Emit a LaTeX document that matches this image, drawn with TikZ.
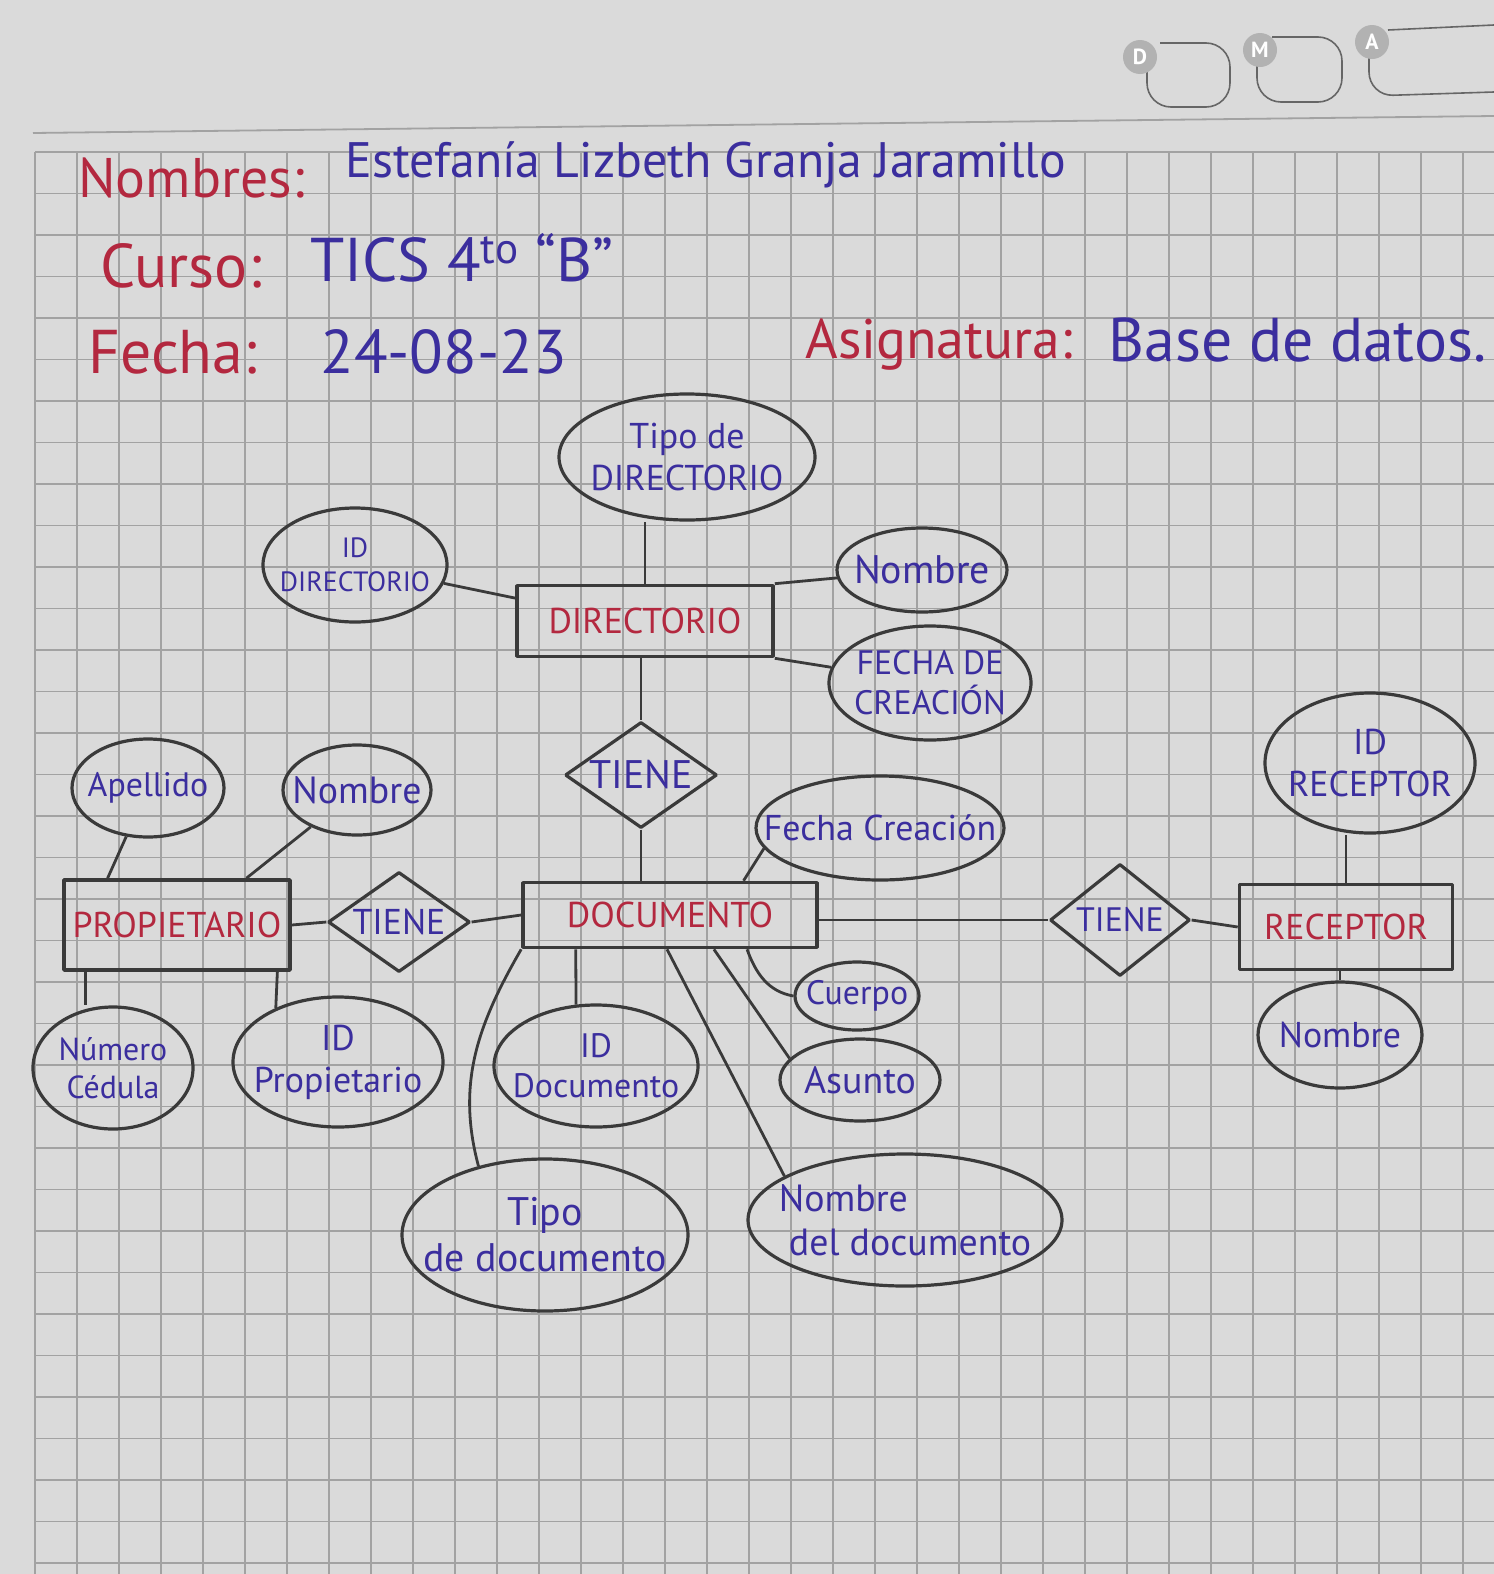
\documentclass[tikz,border=0pt]{standalone}
\usepackage{fontspec}
\setmainfont{PT Sans}
\usetikzlibrary{shapes.geometric}
\definecolor{papel}{HTML}{DADADA}
\definecolor{cuadro}{HTML}{A2A2A2}
\definecolor{lapiz}{HTML}{3A3A3A}
\definecolor{tintaroja}{HTML}{B3283F}
\definecolor{tintaazul}{HTML}{3B2E9E}
\begin{document}
\begin{tikzpicture}[x=0.5bp,y=-0.5bp,line join=bevel,
  entidad/.style={draw=lapiz,line width=1.8bp,text=tintaroja,inner sep=0pt,font=\fontsize{18}{20}\selectfont},
  atributo/.style={ellipse,draw=lapiz,line width=1.6bp,inner sep=0pt},
  relacion/.style={diamond,draw=lapiz,line width=1.6bp,inner sep=0pt},
  txt/.style={text=tintaazul,align=center,inner sep=0pt},
  enlace/.style={draw=lapiz,line width=1.4bp},
  titulo/.style={anchor=west,inner sep=0pt,font=\fontsize{28}{30}\selectfont},
  marca/.style={circle,fill=black!30,text=white,inner sep=0pt,minimum size=17bp,font=\fontsize{11}{12}\selectfont\bfseries},
]
\useasboundingbox (0,0) rectangle (1494,1574);
%% paper
\fill[papel] (0,0) rectangle (1494,1574);
\draw[cuadro,line width=0.9bp] (33,133) -- (1494,116);
\foreach \gx in {35,77,...,1494}
  \draw[cuadro,line width=0.8bp] (\gx,152) -- (\gx,1574);
\foreach \gy in {152,193.5,...,1574}
  \draw[cuadro,line width=0.8bp] (35,\gy) -- (1494,\gy);
% D M A boxes
\draw[black!60,line width=0.8bp,rounded corners=12bp] (1160,43) -- (1230,43) -- (1230,107) -- (1147,107) -- (1147,70);
\draw[black!60,line width=0.8bp,rounded corners=12bp] (1272,37) -- (1342,37) -- (1342,102) -- (1257,102) -- (1257,64);
\draw[black!60,line width=0.8bp,rounded corners=12bp] (1388,30) -- (1494,25);
\draw[black!60,line width=0.8bp,rounded corners=12bp] (1369,58) -- (1369,96) -- (1494,92);
\node[marca] (diaMarca) at (1140,57) {D};
\node[marca] (mesMarca) at (1260,50) {M};
\node[marca] (anioMarca) at (1372,42) {A};
%% header
\node[titulo,text=tintaroja] (nombresLbl) at (78,178) {Nombres:};
\node[titulo,text=tintaazul,font=\fontsize{25}{28}\selectfont] (nombresVal) at (345,165) {Estefanía Lizbeth Granja Jaramillo};
\node[titulo,text=tintaroja,font=\fontsize{31}{33}\selectfont] (cursoLbl) at (100,266) {Curso:};
\node[titulo,text=tintaazul,font=\fontsize{31}{33}\selectfont] (cursoVal) at (310,258) {TICS 4\textsuperscript{to} ``B''};
\node[titulo,text=tintaroja,font=\fontsize{31}{33}\selectfont] (fechaLbl) at (88,352) {Fecha:};
\node[titulo,text=tintaazul,font=\fontsize{31}{33}\selectfont] (fechaVal) at (320,352) {24-08-23};
\node[titulo,text=tintaroja] (asigLbl) at (805,345) {Asignatura:};
\node[titulo,text=tintaazul,font=\fontsize{31}{33}\selectfont] (asigVal) at (1108,340) {Base de datos.};
%% entities
% Node: DIRECTORIO
\node[entidad,minimum width=128bp,minimum height=35.5bp] (directorio) at (645,621) {DIRECTORIO};
% Node: DOCUMENTO
\node[entidad,minimum width=147bp,minimum height=32.5bp] (documento) at (670,915) {DOCUMENTO};
% Node: PROPIETARIO
\node[entidad,minimum width=113bp,minimum height=45bp] (propietario) at (177,925) {PROPIETARIO};
% Node: RECEPTOR
\node[entidad,minimum width=106.5bp,minimum height=42.5bp] (receptor) at (1346,927) {RECEPTOR};
%% relations
% Node: TIENE (directorio)
\node[relacion,minimum width=76bp,minimum height=53bp,label={[txt,font=\fontsize{20}{22}\selectfont]center:TIENE}] (tieneDir) at (641,775) {};
% Node: TIENE (propietario)
\node[relacion,minimum width=71bp,minimum height=50bp,label={[txt,font=\fontsize{18}{20}\selectfont]center:TIENE}] (tieneProp) at (399,922) {};
% Node: TIENE (receptor)
\node[relacion,minimum width=70bp,minimum height=56bp,label={[txt,font=\fontsize{17}{19}\selectfont]center:TIENE}] (tieneRec) at (1120,920) {};
%% attributes of DIRECTORIO
\node[atributo,minimum width=128bp,minimum height=63bp,label={[txt,font=\fontsize{18}{21}\selectfont]center:Tipo de\\DIRECTORIO}] (tipoDir) at (687,457) {};
\node[atributo,minimum width=92bp,minimum height=57bp,label={[txt,font=\fontsize{14}{17}\selectfont]center:ID\\DIRECTORIO}] (idDir) at (355,565) {};
\node[atributo,minimum width=85bp,minimum height=42bp,label={[txt,font=\fontsize{20}{22}\selectfont]center:Nombre}] (nombreDir) at (922,570) {};
\node[atributo,minimum width=101bp,minimum height=57bp,label={[txt,font=\fontsize{17}{20}\selectfont]center:FECHA DE\\CREACIÓN}] (fechaDir) at (930,683) {};
%% attributes of PROPIETARIO
\node[atributo,minimum width=76bp,minimum height=49bp,label={[txt,font=\fontsize{17}{19}\selectfont]center:Apellido}] (apellido) at (148,788) {};
\node[atributo,minimum width=74bp,minimum height=45bp,label={[txt,font=\fontsize{19}{21}\selectfont]center:Nombre}] (nombreProp) at (357,790) {};
\node[atributo,minimum width=80bp,minimum height=61bp,label={[txt,font=\fontsize{16}{19}\selectfont]center:Número\\Cédula}] (numCedula) at (113,1068) {};
\node[atributo,minimum width=105bp,minimum height=65bp,label={[txt,font=\fontsize{18}{21}\selectfont]center:ID\\Propietario}] (idProp) at (338,1062) {};
%% attributes of DOCUMENTO
\node[atributo,minimum width=124bp,minimum height=52bp,label={[txt,font=\fontsize{18}{20}\selectfont]center:Fecha Creación}] (fechaDoc) at (880,828) {};
\node[atributo,minimum width=102bp,minimum height=61bp,label={[txt,font=\fontsize{17}{20}\selectfont]center:ID\\Documento}] (idDoc) at (596,1066) {};
\node[atributo,minimum width=62bp,minimum height=34bp,label={[txt,font=\fontsize{17}{19}\selectfont]center:Cuerpo}] (cuerpo) at (857,996) {};
\node[atributo,minimum width=80bp,minimum height=41bp,label={[txt,font=\fontsize{19}{21}\selectfont]center:Asunto}] (asunto) at (860,1080) {};
\node[atributo,minimum width=143bp,minimum height=76bp,label={[txt,font=\fontsize{20}{23}\selectfont]center:Tipo\\de documento}] (tipoDoc) at (545,1235) {};
\node[atributo,minimum width=157bp,minimum height=66bp,label={[txt,align=left,font=\fontsize{19}{22}\selectfont]center:Nombre\\\ del documento}] (nombreDoc) at (905,1220) {};
%% attributes of RECEPTOR
\node[atributo,minimum width=105bp,minimum height=70bp,label={[txt,font=\fontsize{18}{21}\selectfont]center:ID\\RECEPTOR}] (idRec) at (1370,763) {};
\node[atributo,minimum width=82bp,minimum height=53bp,label={[txt,font=\fontsize{18}{20}\selectfont]center:Nombre}] (nombreRec) at (1340,1035) {};
%% edges
% Edge: Tipo de directorio -> DIRECTORIO
\draw[enlace] (directorio.north) -- (directorio.north |- tipoDir.south);
% Edge: ID directorio -> DIRECTORIO
\draw[enlace] (idDir) -- (directorio.170);
% Edge: Nombre -> DIRECTORIO
\draw[enlace] (nombreDir) -- (directorio.north east);
% Edge: Fecha de creacion -> DIRECTORIO
\draw[enlace] (fechaDir) -- (directorio.south east);
% Edge: DIRECTORIO -> TIENE -> DOCUMENTO
\draw[enlace] (tieneDir.north |- directorio.south) -- (tieneDir.north);
\draw[enlace] (tieneDir.south) -- (tieneDir.south |- documento.north);
% Edge: Fecha creacion -> DOCUMENTO
\draw[enlace] (fechaDoc.190) -- (documento.25);
% Edge: Apellido, Nombre -> PROPIETARIO
\draw[enlace] (apellido) -- (propietario.146);
\draw[enlace] (nombreProp) -- (propietario.34);
% Edge: PROPIETARIO -> TIENE -> DOCUMENTO
\draw[enlace] (propietario.east) -- (tieneProp.west);
\draw[enlace] (tieneProp.east) -- (documento.west);
% Edge: PROPIETARIO -> Numero cedula, ID propietario
\draw[enlace] (propietario.207) -- (propietario.207 |- numCedula.north);
\draw[enlace] (propietario.-25) -- (idProp.139);
% Edge: DOCUMENTO -> its attributes
\draw[enlace] (documento.200) -- (idDoc.108);
\draw[enlace] (documento.-24) to[out=-70,in=170] (cuerpo.west);
\draw[enlace] (documento.-38) -- (asunto.163);
\draw[enlace] (documento.-95) -- (nombreDoc.160);
\draw[enlace] (documento.south west) to[out=240,in=105] (tipoDoc.134);
% Edge: DOCUMENTO -> TIENE -> RECEPTOR
\draw[enlace] (tieneRec.west -| documento.east) -- (tieneRec.west);
\draw[enlace] (tieneRec.east) -- (receptor.west);
% Edge: RECEPTOR -> ID receptor, Nombre
\draw[enlace] (receptor.north) -- (receptor.north |- idRec.south);
\draw[enlace] (nombreRec.north |- receptor.south) -- (nombreRec.north);
%
\end{tikzpicture}
\end{document}
